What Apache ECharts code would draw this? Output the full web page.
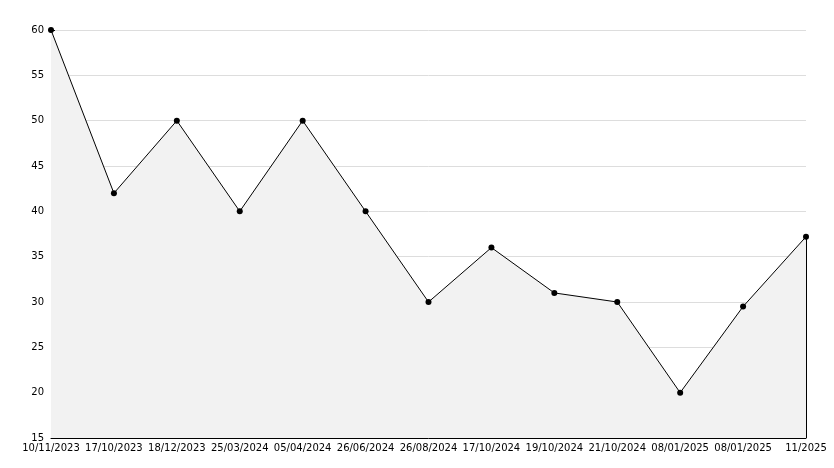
<!DOCTYPE html>
<html><head><meta charset="utf-8">
<script src="https://cdn.jsdelivr.net/npm/echarts@6/dist/echarts.min.js"></script>
<style>html,body{margin:0;padding:0;background:#fff}#c{width:834px;height:468px}</style>
</head><body><div id="c"></div>
<script>
const categories = ["10/11/2023","17/10/2023","18/12/2023","25/03/2024","05/04/2024","26/06/2024","26/08/2024","17/10/2024","19/10/2024","21/10/2024","08/01/2025","08/01/2025","11/2025"];
const values = [60, 42, 50, 40, 50, 40, 30, 36, 31, 30, 20, 29.5, 37.2];
const yMin = 15, yMax = 60, yStep = 5;

const chart = echarts.init(document.getElementById('c'), null, {renderer: 'canvas'});
const lastIdx = values.length - 1;
chart.setOption({
  animation: false,
  backgroundColor: '#ffffff',
  grid: {left: 51, right: 28, top: 30, bottom: 30},
  xAxis: {
    type: 'category', data: categories, boundaryGap: false,
    axisLine: {lineStyle: {color: '#000', width: 1}},
    axisTick: {inside: true, length: 5, lineStyle: {color: '#000'}},
    axisLabel: {color: '#000', fontFamily: 'DejaVu Sans', fontSize: 10, margin: 5, interval: 0},
    splitLine: {show: false}
  },
  yAxis: {
    type: 'value', min: yMin, max: yMax, interval: yStep,
    axisLine: {show: true, lineStyle: {color: '#000', width: 1}},
    axisTick: {show: true, inside: true, length: 4, lineStyle: {color: '#000'}},
    minorTick: {show: true, splitNumber: 5, length: 3, lineStyle: {color: '#000'}},
    axisLabel: {color: '#000', fontFamily: 'DejaVu Sans', fontSize: 10, margin: 7},
    splitLine: {show: true, lineStyle: {color: '#dddddd', width: 1}}
  },
  series: [{
    type: 'line', data: values,
    symbol: 'circle', symbolSize: 6,
    itemStyle: {color: '#000'},
    lineStyle: {color: '#000', width: 1},
    areaStyle: {color: '#f2f2f2', opacity: 1, origin: 'start'},
    markLine: {
      silent: true, symbol: ['none', 'none'], label: {show: false},
      lineStyle: {color: '#000', width: 1, type: 'solid'},
      data: [[{coord: [lastIdx, values[lastIdx]]}, {coord: [lastIdx, yMin]}]]
    }
  }]
});
</script></body></html>
